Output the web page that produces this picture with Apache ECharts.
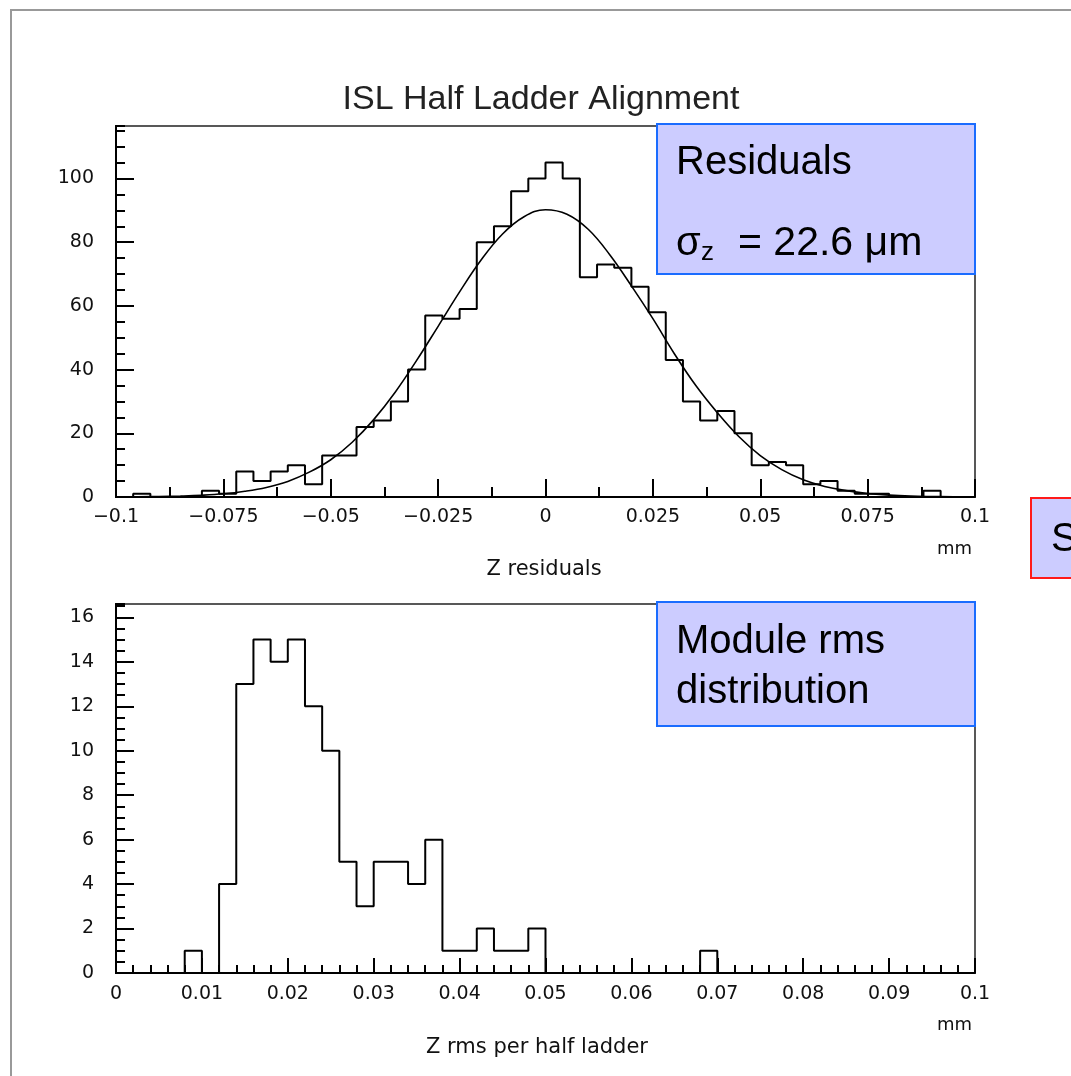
<!DOCTYPE html>
<html><head><meta charset="utf-8">
<script src="https://cdn.jsdelivr.net/npm/echarts@6/dist/echarts.min.js"></script>
<style>html,body{margin:0;padding:0;background:#fff;} #c{width:1071px;height:1076px;}</style>
</head><body><div id="c"></div>
<script>
// ---- Data: Z residuals histogram (50 bins of 0.004 mm from -0.1) ----
const residualBinStart = -0.1;
const residualBinWidth = 0.004;
const residualCounts = [0,1,0,0,0,2,1,8,5,8,10,4,13,13,22,24,30,40,57,56,59,80,85,96,100,105,100,69,73,72,66,58,43,30,24,27,20,10,11,10,4,5,2,1,1,0,0,2,0,0];
// Gaussian fit curve
const fitX = [-0.095,-0.09,-0.085,-0.08,-0.075,-0.07,-0.065,-0.06,-0.055,-0.05,-0.045,-0.04,-0.035,-0.03,-0.025,-0.02,-0.015,-0.01,-0.005,0,0.005,0.01,0.015,0.02,0.025,0.03,0.035,0.04,0.045,0.05,0.055,0.06,0.065,0.07,0.075,0.08,0.085,0.09,0.095];
const fitY = [0.05,0.15,0.3,0.55,1.0,1.8,3.0,4.9,7.8,11.7,17.2,24.3,32.9,42.9,53.6,64.4,74.4,82.6,88.0,90.2,88.8,84.0,76.0,66.3,56.0,45.0,35.0,26.5,19.0,13.0,8.6,5.4,3.3,2.0,1.1,0.6,0.3,0.15,0.05];
const residualXLabels = ['\u22120.1','\u22120.075','\u22120.05','\u22120.025','0','0.025','0.05','0.075','0.1'];
const residualYLabels = ['0','20','40','60','80','100'];

// ---- Data: Z rms per half ladder histogram (50 bins of 0.002 mm from 0) ----
const rmsBinStart = 0;
const rmsBinWidth = 0.002;
const rmsCounts = [0,0,0,0,1,0,4,13,15,14,15,12,10,5,3,5,5,4,6,1,1,2,1,1,2,0,0,0,0,0,0,0,0,0,1,0,0,0,0,0,0,0,0,0,0,0,0,0,0,0];
const rmsXLabels = ['0','0.01','0.02','0.03','0.04','0.05','0.06','0.07','0.08','0.09','0.1'];
const rmsYLabels = ['0','2','4','6','8','10','12','14','16'];

function stepData(start, width, counts) {
  const d = counts.map((c, k) => [start + k * width, c]);
  d.push([start + counts.length * width, counts[counts.length - 1]]);
  return d;
}
function labelFrom(list, min, interval) {
  return function (v) {
    const i = Math.round((v - min) / interval);
    return (i >= 0 && i < list.length && Math.abs(v - (min + i * interval)) < interval * 1e-3) ? list[i] : '';
  };
}

const FONT = 'DejaVu Sans';
const chart = echarts.init(document.getElementById('c'), null, {renderer: 'canvas'});

const labelStyle = {color: '#111', fontFamily: FONT, fontSize: 19};
const axLine = {onZero: false, lineStyle: {color: '#000', width: 2}};

function yAxisPair(grid, max, major, minor, labels) {
  return [
    {type: 'value', gridIndex: grid, position: 'left', min: 0, max: max, interval: major,
     axisLine: axLine,
     axisTick: {inside: true, length: 18, lineStyle: {color: '#000', width: 2}},
     splitLine: {show: false},
     axisLabel: Object.assign({margin: 22, showMaxLabel: false, formatter: labelFrom(labels, 0, major)}, labelStyle)},
    {type: 'value', gridIndex: grid, position: 'left', offset: 0, min: 0, max: max, interval: minor,
     axisLine: axLine,
     axisTick: {inside: true, length: 9, lineStyle: {color: '#000', width: 2}},
     splitLine: {show: false}, axisLabel: {show: false}}
  ];
}

const option = {
  animation: false,
  backgroundColor: '#fff',
  grid: [
    {left: 116, top: 126, width: 859, height: 371, show: true, borderColor: '#222', borderWidth: 1.5, backgroundColor: 'transparent'},
    {left: 116, top: 604, width: 859, height: 369, show: true, borderColor: '#222', borderWidth: 1.5, backgroundColor: 'transparent'}
  ],
  xAxis: [
    {type: 'value', gridIndex: 0, position: 'bottom', min: -0.1, max: 0.1, interval: 0.025,
     axisLine: axLine,
     axisTick: {inside: true, length: 18, lineStyle: {color: '#000', width: 2}},
     minorTick: {show: true, splitNumber: 2, length: 10, lineStyle: {color: '#000', width: 2}},
     splitLine: {show: false},
     axisLabel: Object.assign({margin: 11, formatter: labelFrom(residualXLabels, -0.1, 0.025)}, labelStyle)},
    {type: 'value', gridIndex: 1, position: 'bottom', min: 0, max: 0.1, interval: 0.01,
     axisLine: axLine,
     axisTick: {inside: true, length: 15, lineStyle: {color: '#000', width: 2}},
     minorTick: {show: true, splitNumber: 5, length: 8, lineStyle: {color: '#000', width: 2}},
     splitLine: {show: false},
     axisLabel: Object.assign({margin: 12, formatter: labelFrom(rmsXLabels, 0, 0.01)}, labelStyle)}
  ],
  yAxis: [].concat(yAxisPair(0, 116.5, 20, 5, residualYLabels), yAxisPair(1, 16.6, 2, 0.5, rmsYLabels)),
  series: [
    {type: 'line', xAxisIndex: 0, yAxisIndex: 0, step: 'end', symbol: 'none',
     lineStyle: {color: '#000', width: 2}, data: stepData(residualBinStart, residualBinWidth, residualCounts), z: 3},
    {type: 'line', xAxisIndex: 0, yAxisIndex: 0, smooth: 0.4, symbol: 'none',
     lineStyle: {color: '#000', width: 1.6}, data: fitX.map((x, i) => [x, fitY[i]]), z: 4},
    {type: 'line', xAxisIndex: 1, yAxisIndex: 2, step: 'end', symbol: 'none',
     lineStyle: {color: '#000', width: 2}, data: stepData(rmsBinStart, rmsBinWidth, rmsCounts), z: 3}
  ],
  graphic: [
    {type: 'rect', shape: {x: 11, y: 10, width: 2000, height: 2000}, style: {fill: 'none', stroke: '#999', lineWidth: 2}, z: 1},
    {type: 'text', x: 541, y: 100, style: {text: 'ISL Half Ladder Alignment', fontFamily: 'Liberation Sans', fontSize: 34, fill: '#222', align: 'center', verticalAlign: 'middle'}},
    {type: 'text', x: 972, y: 549, style: {text: 'mm', fontFamily: FONT, fontSize: 18, fill: '#111', align: 'right', verticalAlign: 'middle'}},
    {type: 'text', x: 544, y: 570, style: {text: 'Z residuals', fontFamily: FONT, fontSize: 21, fill: '#111', align: 'center', verticalAlign: 'middle'}},
    {type: 'text', x: 972, y: 1025, style: {text: 'mm', fontFamily: FONT, fontSize: 18, fill: '#111', align: 'right', verticalAlign: 'middle'}},
    {type: 'text', x: 537, y: 1048, style: {text: 'Z rms per half ladder', fontFamily: FONT, fontSize: 21, fill: '#111', align: 'center', verticalAlign: 'middle'}},
    // Residuals box
    {type: 'rect', shape: {x: 657, y: 124, width: 318, height: 150}, style: {fill: '#ccccff', stroke: '#1a6cff', lineWidth: 2}, z: 100},
    {type: 'text', x: 676, y: 163, style: {text: 'Residuals', fontFamily: 'Liberation Sans', fontSize: 40, fill: '#000', verticalAlign: 'middle'}, z: 101},
    {type: 'text', x: 676, y: 244, style: {text: '\u03c3', fontFamily: 'Liberation Sans', fontSize: 40, fill: '#000', verticalAlign: 'middle'}, z: 101},
    {type: 'text', x: 701, y: 253, style: {text: 'z', fontFamily: 'Liberation Sans', fontSize: 26, fill: '#000', verticalAlign: 'middle'}, z: 101},
    {type: 'text', x: 738, y: 244, style: {text: '= 22.6 \u03bcm', fontFamily: 'Liberation Sans', fontSize: 41, fill: '#000', verticalAlign: 'middle'}, z: 101},
    // Module rms box
    {type: 'rect', shape: {x: 657, y: 602, width: 318, height: 124}, style: {fill: '#ccccff', stroke: '#1a6cff', lineWidth: 2}, z: 100},
    {type: 'text', x: 676, y: 642, style: {text: 'Module rms', fontFamily: 'Liberation Sans', fontSize: 40, fill: '#000', verticalAlign: 'middle'}, z: 101},
    {type: 'text', x: 676, y: 692, style: {text: 'distribution', fontFamily: 'Liberation Sans', fontSize: 40, fill: '#000', verticalAlign: 'middle'}, z: 101},
    // Cut-off box on the right
    {type: 'rect', shape: {x: 1031, y: 498, width: 100, height: 80}, style: {fill: '#ccccff', stroke: '#ff1a1a', lineWidth: 2}, z: 100},
    {type: 'text', x: 1051, y: 540, style: {text: 'S', fontFamily: 'Liberation Sans', fontSize: 40, fill: '#000', verticalAlign: 'middle'}, z: 101}
  ]
};
chart.setOption(option);
</script></body></html>
